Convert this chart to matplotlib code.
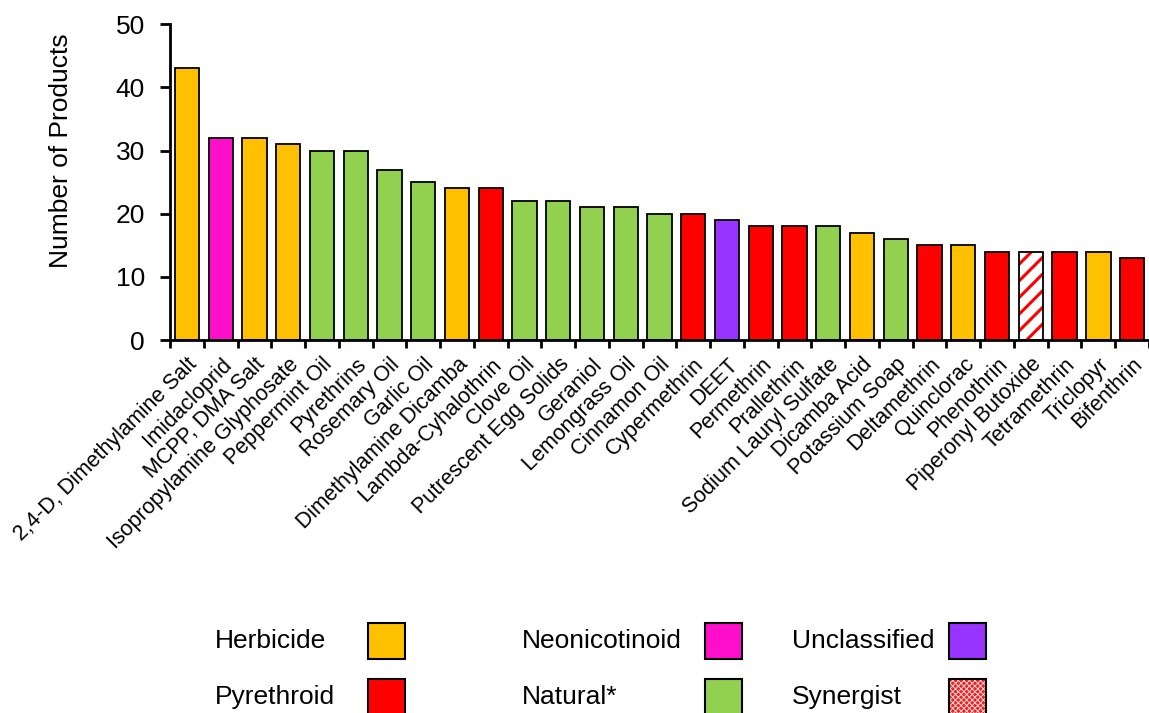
import numpy as np
import matplotlib
matplotlib.use('Agg')
import matplotlib.pyplot as plt
from matplotlib.patches import Rectangle

plt.rcParams['font.family'] = ['Liberation Sans', 'DejaVu Sans']
plt.rcParams['hatch.linewidth'] = 2.2

# data
names = ['2,4-D, Dimethylamine Salt', 'Imidacloprid', 'MCPP, DMA Salt',
         'Isopropylamine Glyphosate', 'Peppermint Oil', 'Pyrethrins',
         'Rosemary Oil', 'Garlic Oil', 'Dimethylamine Dicamba',
         'Lambda-Cyhalothrin', 'Clove Oil', 'Putrescent Egg Solids',
         'Geraniol', 'Lemongrass Oil', 'Cinnamon Oil', 'Cypermethrin', 'DEET',
         'Permethrin', 'Prallethrin', 'Sodium Lauryl Sulfate', 'Dicamba Acid',
         'Potassium Soap', 'Deltamethrin', 'Quinclorac', 'Phenothrin',
         'Piperonyl Butoxide', 'Tetramethrin', 'Triclopyr', 'Bifenthrin']
counts = [43, 32, 32, 31, 30, 30, 27, 25, 24, 24, 22, 22, 21, 21, 20, 20, 19,
          18, 18, 18, 17, 16, 15, 15, 14, 14, 14, 14, 13]
groups = ['H', 'Neo', 'H', 'H', 'Nat', 'Nat', 'Nat', 'Nat', 'H', 'P', 'Nat',
          'Nat', 'Nat', 'Nat', 'Nat', 'P', 'U', 'P', 'P', 'Nat', 'H', 'Nat',
          'P', 'H', 'P', 'S', 'P', 'H', 'P']

legend_labels = ['Herbicide', 'Neonicotinoid', 'Unclassified',
                 'Pyrethroid', 'Natural*', 'Synergist']
legend_keys = ['H', 'Neo', 'U', 'P', 'Nat', 'S']

colors = {'H': '#FFC000', 'Neo': '#FF0FCC', 'U': '#9933FF',
          'P': '#FF0000', 'Nat': '#92D050', 'S': 'white'}

fig = plt.figure(figsize=(11.49, 7.13), dpi=100)
ax = fig.add_axes([0.148, 0.523, 0.852, 0.443])

x = np.arange(len(names))
for xi, c, g in zip(x, counts, groups):
    if g == 'S':
        ax.bar(xi, c, width=0.72, color='white', edgecolor='#FF0000',
               hatch='//', linewidth=0)
        ax.bar(xi, c, width=0.72, fill=False, edgecolor='black', linewidth=1.3)
    else:
        ax.bar(xi, c, width=0.72, color=colors[g], edgecolor='black', linewidth=1.3)

ax.set_xlim(-0.5, len(names) - 0.5)
ax.set_ylim(0, 50)
ax.set_yticks(np.arange(0, 51, 10))
ax.tick_params(axis='y', labelsize=19, width=2, length=7, direction='out', pad=11)
ax.set_ylabel('Number of Products', fontsize=19)
ax.yaxis.set_label_coords(-0.099, 0.60)

ax.set_xticks(np.arange(-0.5, len(names), 1.0))
ax.set_xticklabels([])
ax.tick_params(axis='x', width=2, length=6, direction='out')
ax.set_xticks(x, minor=True)
ax.set_xticklabels(names, minor=True, rotation=45, ha='right',
                   rotation_mode='anchor', fontsize=15.5)
ax.tick_params(axis='x', which='minor', length=0, pad=10)

for s in ['top', 'right']:
    ax.spines[s].set_visible(False)
ax.spines['left'].set_linewidth(2)
ax.spines['bottom'].set_linewidth(2)

# legend drawn by hand at the bottom
W, H = 1149.0, 713.0
text_x = [215, 522, 792]
sw_x = [368, 705, 949]
rows_y = [641, 697]
for i, (lab, key) in enumerate(zip(legend_labels, legend_keys)):
    r, col = divmod(i, 3)
    yc = rows_y[r]
    fig.text(text_x[col] / W, 1 - yc / H, lab, fontsize=19, va='center', ha='left')
    box = (sw_x[col] / W, 1 - (yc + 18) / H)
    if key == 'S':
        p = Rectangle(box, 37 / W, 36 / H, transform=fig.transFigure,
                      facecolor='#EE2020', edgecolor='#FFD8D8',
                      hatch='xxxxxx', linewidth=0)
        if hasattr(p, 'set_hatch_linewidth'):
            p.set_hatch_linewidth(0.7)
        fig.patches.append(p)
        p = Rectangle(box, 37 / W, 36 / H, transform=fig.transFigure,
                      fill=False, edgecolor='black', linewidth=1.5)
        fig.patches.append(p)
    else:
        p = Rectangle(box, 37 / W, 36 / H, transform=fig.transFigure,
                      facecolor=colors[key], edgecolor='black', linewidth=1.5)
        fig.patches.append(p)

fig.savefig('out.png', dpi=100)
